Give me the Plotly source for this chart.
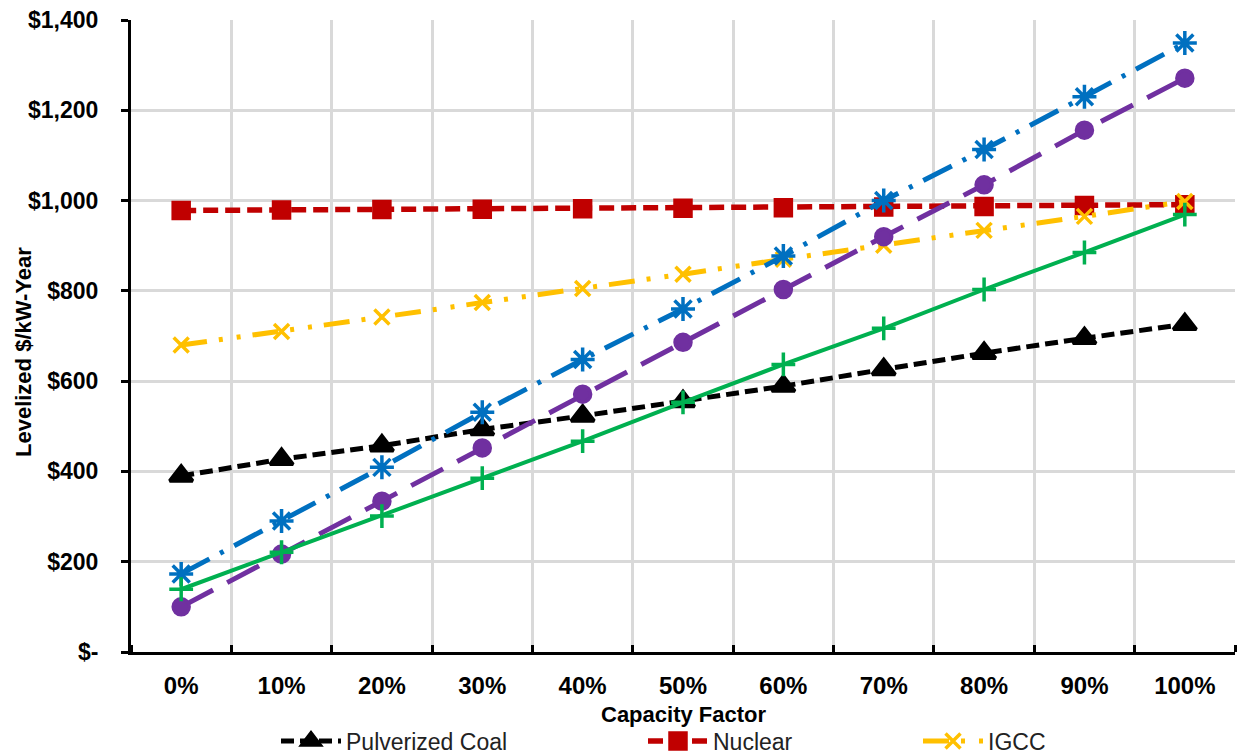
import plotly.graph_objects as go

# Capacity factor categories
categories = ["0%", "10%", "20%", "30%", "40%", "50%", "60%", "70%", "80%", "90%", "100%"]

# Levelized cost, $/kW-Year
pulverized_coal = [390, 427, 457, 493, 523, 555, 589, 626, 662, 695, 726]
nuclear = [978, 979, 980, 981, 982, 983, 984, 986, 987, 989, 991]
igcc = [680, 710, 742, 774, 805, 837, 870, 901, 934, 965, 998]
aero_ct = [173, 290, 409, 531, 648, 760, 877, 1000, 1113, 1230, 1349]
combustion_turbine = [100, 217, 334, 452, 571, 686, 803, 920, 1035, 1156, 1271]
combined_cycle = [139, 221, 301, 385, 467, 553, 637, 717, 803, 885, 969]

# Y-axis tick labels
y_tick_values = [0, 200, 400, 600, 800, 1000, 1200, 1400]
y_tick_labels = ["$-", "$200", "$400", "$600", "$800", "$1,000", "$1,200", "$1,400"]

x_title = "Capacity Factor"
y_title = "Levelized $/kW-Year"

x = list(range(len(categories)))
FONT = "Liberation Sans, Arial, sans-serif"
W, H = 1238, 754
ML, MR, MT, MB = 131, 3, 20, 102
PW, PH = W - ML - MR, H - MT - MB


def paper_x(px):
    return (px - ML) / PW


def paper_y(py):
    return (H - MB - py) / PH


fig = go.Figure()

series = [
    dict(name="Pulverized Coal", y=pulverized_coal, color="#000000", dash="13px,6px",
         symbol="triangle-up", size=20, width=5, legend="legend", show=True),
    dict(name="Nuclear", y=nuclear, color="#C00000", dash="15px,7px",
         symbol="square", size=16, width=5.5, legend="legend2", show=True),
    dict(name="IGCC", y=igcc, color="#FFC000", dash="26px,12px,4px,14px,4px,12px",
         symbol="x-thin-open", size=15, width=5, legend="legend3", show=True),
    dict(name="Aeroderivative CT", y=aero_ct, color="#0070C0", dash="32px,12px,4px,12px",
         symbol="asterisk-open", size=20, width=5, legend="legend", show=False),
    dict(name="Combustion Turbine", y=combustion_turbine, color="#7030A0", dash="36px,16px",
         symbol="circle", size=16, width=5, legend="legend", show=False),
    dict(name="Combined Cycle", y=combined_cycle, color="#00B050", dash="solid",
         symbol="cross-thin-open", size=17, width=4, legend="legend", show=False),
]

for s in series:
    fig.add_trace(go.Scatter(
        x=x, y=s["y"], name=s["name"], mode="lines+markers",
        line=dict(color=s["color"], width=s["width"], dash=s["dash"]),
        marker=dict(symbol=s["symbol"], size=s["size"], color=s["color"],
                    line=dict(color=s["color"], width=3.5)),
        legend=s["legend"], showlegend=s["show"],
    ))

legend_style = dict(
    orientation="h", xref="container", yref="container", yanchor="middle",
    xanchor="left", bgcolor="rgba(0,0,0,0)", itemwidth=60,
    font=dict(family=FONT, size=23, color="#222222"),
)

title_font = dict(family=FONT, size=22, color="#000000", weight="bold")

fig.update_layout(
    width=W, height=H,
    margin=dict(l=ML, r=MR, t=MT, b=MB),
    paper_bgcolor="white", plot_bgcolor="white",
    font=dict(family=FONT, color="#000000"),
    legend=dict(x=276 / W, y=1 - 741 / H, **legend_style),
    legend2=dict(x=643 / W, y=1 - 741 / H, **legend_style),
    legend3=dict(x=918 / W, y=1 - 741 / H, **legend_style),
    xaxis=dict(
        range=[-0.5, len(categories) - 0.5],
        tickmode="array", tickvals=x, ticktext=categories,
        showgrid=False, ticks="", zeroline=False,
        showline=True, linecolor="#000000", linewidth=3,
        tickfont=dict(family=FONT, size=24, color="#000000", weight="bold"),
        ticklabelstandoff=10,
        minor=dict(
            tickmode="array", tickvals=[i - 0.5 for i in range(len(categories) + 1)],
            showgrid=True, gridcolor="#D9D9D9", gridwidth=3,
            ticks="inside", ticklen=7, tickwidth=3, tickcolor="#000000",
        ),
        automargin=False,
    ),
    yaxis=dict(
        range=[0, 1400],
        tickmode="array", tickvals=y_tick_values, ticktext=y_tick_labels,
        showgrid=True, gridcolor="#D9D9D9", gridwidth=3, zeroline=False,
        showline=True, linecolor="#000000", linewidth=3,
        ticks="outside", ticklen=7, tickwidth=3, tickcolor="#000000",
        tickfont=dict(family=FONT, size=23, color="#000000", weight="bold"),
        ticklabelstandoff=18,
        automargin=False,
    ),
    annotations=[
        dict(text=x_title, xref="paper", yref="paper", x=0.5, y=paper_y(714),
             xanchor="center", yanchor="middle", showarrow=False, font=title_font),
        dict(text=y_title, xref="paper", yref="paper", x=paper_x(23), y=paper_y(352),
             xanchor="center", yanchor="middle", textangle=-90, showarrow=False,
             font=title_font),
    ],
)

fig.write_html("out.html")
